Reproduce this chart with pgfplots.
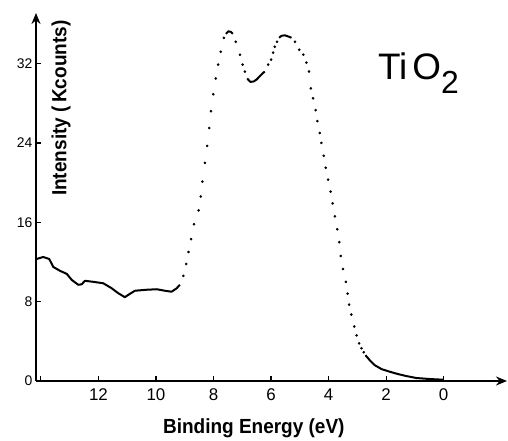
\documentclass[border=0pt]{standalone}
\usepackage{fontspec}
\setmainfont{Liberation Sans}
\newfontfamily\labelfont{Liberation Sans}[FakeStretch=0.93]
\usepackage{pgfplots}
\pgfplotsset{compat=1.18}
\usetikzlibrary{arrows.meta}
\begin{document}
\begin{tikzpicture}
\useasboundingbox (0,0) rectangle (508bp,441bp);
\begin{axis}[
  at={(36bp,60bp)}, anchor=south west,
  scale only axis, width=471bp, height=368bp,
  x dir=reverse,
  xmin=-2.2, xmax=14.17, ymin=0, ymax=37.1,
  axis x line=bottom, axis y line=left,
  x axis line style={line width=2.4bp, {Stealth[length=11bp,width=9bp]}-},
  y axis line style={line width=2.4bp, -{Stealth[length=11bp,width=9bp]}},
  xtick={0,2,4,6,8,10,12}, extra x ticks={14}, extra x tick labels={},
  ytick={0,8,16,24,32},
  tick align=inside, major tick length=5bp,
  tick style={line width=1.2bp, black},
  /pgf/number format/assume math mode=true,
  x tick label style={font=\fontsize{17}{17}\selectfont, yshift=-4bp},
  y tick label style={font=\fontsize{14}{14}\selectfont},
  xlabel={\labelfont\bfseries Binding Energy (eV)},
  xlabel style={at={(axis cs:6.6,-4.74)}, anchor=center, font=\fontsize{20.5}{20}\selectfont},
  ylabel={\labelfont\bfseries Intensity (\,Kcounts)},
  ylabel style={at={(axis cs:13.3,27.5)}, anchor=center, font=\fontsize{20.5}{20}\selectfont},
  clip=false,
]
% solid background (left)
\addplot[black, line width=2bp, line join=round] coordinates {
(14.15,12.3) (13.92,12.5) (13.71,12.3) (13.57,11.5) (13.33,11.1) (13.10,10.8)
(12.93,10.2) (12.70,9.7) (12.58,9.75) (12.47,10.1) (12.18,10.0) (11.83,9.85)
(11.54,9.35) (11.31,8.85) (11.08,8.45) (10.90,8.8) (10.73,9.1) (10.32,9.2)
(9.97,9.25) (9.69,9.1) (9.46,9.0) (9.28,9.35) (9.17,9.7)
};
% dotted points: rising edge
\addplot[only marks, mark=*, mark size=1.1bp, black] coordinates {
(9.05,10.6) (8.95,11.8) (8.87,13.0) (8.78,14.3) (8.68,15.8)
(8.52,17.2) (8.44,18.6) (8.39,20.1) (8.30,22.0) (8.22,23.7) (8.15,25.5)
(8.09,27.2) (8.01,28.9) (7.92,30.5) (7.84,31.9) (7.75,33.2) (7.64,34.6)
};
% first peak
\addplot[black, line width=2bp] coordinates {
(7.57,35.0) (7.48,35.25) (7.40,35.2) (7.33,35.0)
};
\addplot[only marks, mark=*, mark size=1.1bp, black] coordinates {
(7.23,34.2) (7.08,32.9) (6.99,31.9) (6.91,31.2)
};
% valley
\addplot[black, line width=2bp, line join=round] coordinates {
(6.83,30.5) (6.72,30.15) (6.60,30.2) (6.50,30.4) (6.40,30.7) (6.30,31.0) (6.22,31.2)
};
\addplot[only marks, mark=*, mark size=1.1bp, black] coordinates {
(6.10,31.9) (6.00,32.4) (5.93,33.1) (5.87,33.7) (5.79,34.2)
};
% second peak
\addplot[black, line width=2bp, line join=round] coordinates {
(5.72,34.6) (5.64,34.8) (5.52,34.85) (5.37,34.7) (5.29,34.6)
};
% falling edge
\addplot[only marks, mark=*, mark size=1.1bp, black] coordinates {
(5.17,34.2) (5.02,33.4) (4.88,32.9) (4.77,32.1) (4.68,31.2) (4.62,29.5)
(4.54,28.5) (4.45,27.3) (4.39,26.2) (4.31,25.0) (4.25,24.0) (4.17,22.7)
(4.10,21.5) (4.02,20.3) (3.93,19.1) (3.86,17.9) (3.78,16.6) (3.70,15.3)
(3.63,14.0) (3.58,12.6) (3.50,11.3) (3.40,10.0) (3.34,8.8) (3.29,7.7)
(3.21,6.7) (3.11,5.5) (3.03,4.6) (2.94,3.8) (2.86,3.3) (2.78,2.9)
};
% solid tail (valence band edge)
\addplot[black, line width=2bp, line join=round] coordinates {
(2.72,2.6) (2.57,2.1) (2.40,1.6) (2.16,1.2) (1.88,0.94) (1.59,0.7)
(1.30,0.5) (0.95,0.3) (0.49,0.2) (0.02,0.13)
};
\node[anchor=base west, inner sep=0pt] at (axis cs:2.29,30.37)
  {\fontsize{37}{40}\selectfont Ti\hspace{5bp}O\raisebox{-14bp}{\fontsize{32}{34}\selectfont 2}};
\end{axis}
\end{tikzpicture}
\end{document}
